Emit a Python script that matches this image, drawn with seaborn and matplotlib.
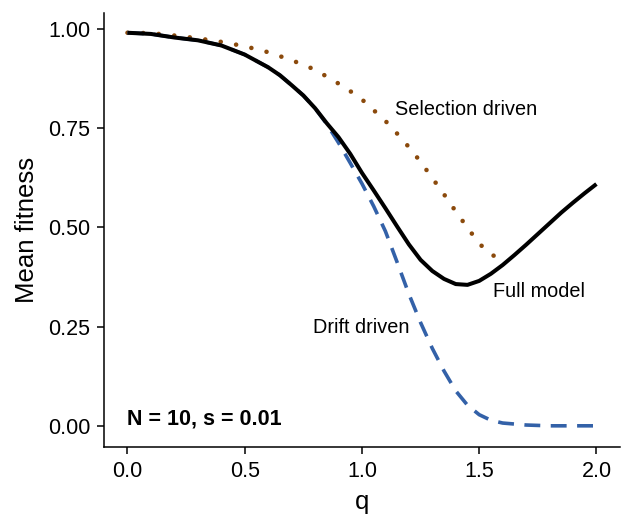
import matplotlib
matplotlib.use("Agg")
import matplotlib.pyplot as plt
import seaborn as sns
import pandas as pd

# Mean fitness as a function of q for the three models
full_q = [0.0, 0.1, 0.2, 0.3, 0.4, 0.5, 0.6, 0.65, 0.7, 0.75, 0.8, 0.85, 0.9,
          0.95, 1.0, 1.05, 1.1, 1.15, 1.2, 1.25, 1.3, 1.35, 1.4, 1.45, 1.5,
          1.55, 1.6, 1.65, 1.7, 1.75, 1.8, 1.85, 1.9, 1.95, 2.0]
full_w = [0.99, 0.987, 0.978, 0.971, 0.958, 0.935, 0.903, 0.883, 0.858, 0.832,
          0.80, 0.762, 0.727, 0.685, 0.637, 0.593, 0.548, 0.502, 0.457, 0.418,
          0.39, 0.37, 0.357, 0.355, 0.365, 0.383, 0.405, 0.43, 0.456, 0.483,
          0.51, 0.537, 0.562, 0.586, 0.609]

drift_q = [0.0, 0.1, 0.2, 0.3, 0.4, 0.5, 0.6, 0.65, 0.7, 0.75, 0.8, 0.85, 0.9,
           0.95, 1.0, 1.05, 1.1, 1.15, 1.2, 1.25, 1.3, 1.35, 1.4, 1.45, 1.5,
           1.55, 1.6, 1.7, 1.8, 1.9, 2.0]
drift_w = [0.99, 0.987, 0.978, 0.971, 0.958, 0.935, 0.903, 0.883, 0.858, 0.832,
           0.80, 0.76, 0.713, 0.662, 0.61, 0.553, 0.49, 0.412, 0.332, 0.26,
           0.195, 0.138, 0.088, 0.052, 0.028, 0.014, 0.007, 0.002, 0.0, 0.0,
           0.0]

sel_q = [0.0, 0.1, 0.2, 0.3, 0.4, 0.5, 0.6, 0.7, 0.8, 0.9, 0.95, 1.0, 1.05,
         1.1, 1.15, 1.2, 1.25, 1.3, 1.35, 1.4, 1.45, 1.5, 1.55, 1.59, 1.62]
sel_w = [0.99, 0.989, 0.983, 0.976, 0.967, 0.956, 0.941, 0.921, 0.897, 0.862,
         0.843, 0.822, 0.795, 0.768, 0.736, 0.702, 0.665, 0.624, 0.583, 0.54,
         0.499, 0.459, 0.432, 0.42, 0.416]

x_ticks = [0.0, 0.5, 1.0, 1.5, 2.0]
y_ticks = [0.0, 0.25, 0.5, 0.75, 1.0]

sns.set_theme(style="ticks")
plt.rcParams["font.family"] = ["Liberation Sans", "DejaVu Sans"]
plt.rcParams["text.color"] = "black"

fig = plt.figure(figsize=(6.23, 5.16), dpi=100)
ax = fig.add_axes([0.167, 0.134, 0.828, 0.841])

brown = "#8B4A0C"
blue = "#3361A8"

sel_df = pd.DataFrame({"q": sel_q, "w": sel_w})
drift_df = pd.DataFrame({"q": drift_q, "w": drift_w})
full_df = pd.DataFrame({"q": full_q, "w": full_w})

# selection-driven curve: round dots
sns.lineplot(data=sel_df, x="q", y="w", ax=ax, color=brown, lw=3.3,
             estimator=None, sort=False)
ax.lines[-1].set_dashes([0.01, 3.4])
ax.lines[-1].set_dash_capstyle("round")

# drift-driven curve: dashes
sns.lineplot(data=drift_df, x="q", y="w", ax=ax, color=blue, lw=2.6,
             estimator=None, sort=False)
ax.lines[-1].set_dashes([4.4, 2.9])

# full model: solid
sns.lineplot(data=full_df, x="q", y="w", ax=ax, color="black", lw=2.9,
             estimator=None, sort=False)
ax.lines[-1].set_solid_capstyle("butt")
ax.lines[-1].set_solid_joinstyle("round")

ax.text(1.444, 0.796, "Selection driven", fontsize=14.3, ha="center",
        va="center", color="black")
ax.text(1.757, 0.338, "Full model", fontsize=14.3, ha="center", va="center",
        color="black")
ax.text(0.997, 0.247, "Drift driven", fontsize=14.3, ha="center", va="center",
        color="black")
ax.text(0.0, 0.018, "N = 10, s = 0.01", fontsize=15.5, fontweight="bold",
        ha="left", va="center", color="black")

ax.set_xlim(-0.1, 2.1)
ax.set_ylim(-0.053, 1.04)
ax.set_xticks(x_ticks)
ax.set_xticklabels([f"{v:.1f}" for v in x_ticks])
ax.set_yticks(y_ticks)
ax.set_yticklabels([f"{v:.2f}" for v in y_ticks])
ax.set_xlabel("q", fontsize=18.5, labelpad=6, color="black")
ax.set_ylabel("Mean fitness", fontsize=18.5, labelpad=6, color="black")
ax.tick_params(axis="both", labelsize=15.5, length=5, width=1.1, color="black",
               labelcolor="black", direction="out", pad=5)
sns.despine(ax=ax)
for side in ("left", "bottom"):
    ax.spines[side].set_linewidth(1.1)
    ax.spines[side].set_color("black")

fig.savefig("out.png", dpi=100)
